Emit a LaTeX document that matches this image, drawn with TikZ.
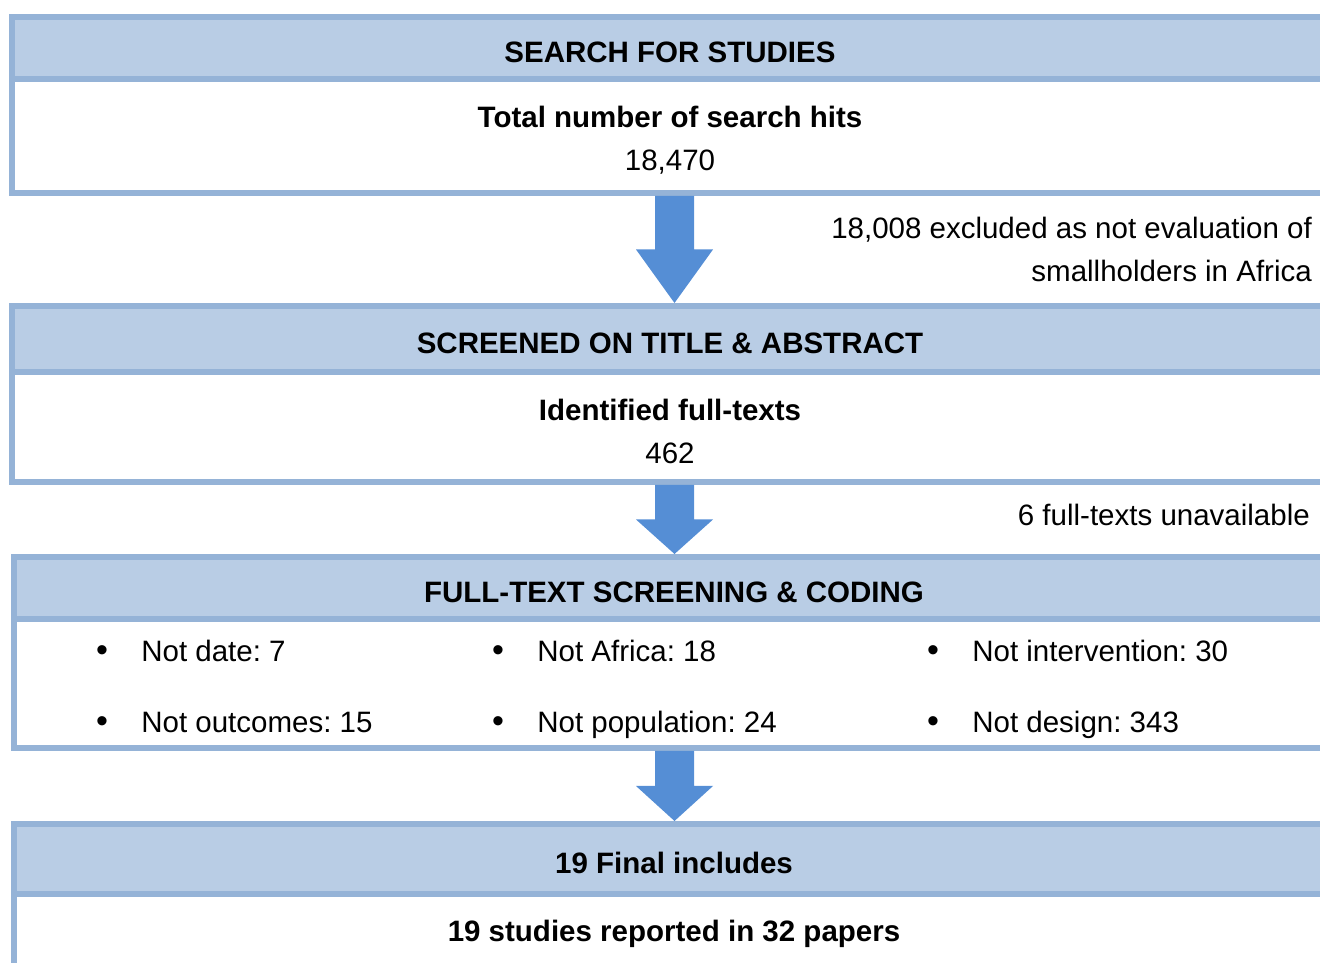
\documentclass[tikz,border=0pt]{standalone}
\usepackage{fontspec}
\setmainfont{Liberation Sans}
\usetikzlibrary{positioning,calc}
\frenchspacing

\definecolor{boxline}{HTML}{95B3D7}
\definecolor{headfill}{HTML}{B9CDE5}
\definecolor{arrowfill}{HTML}{558ED5}

\tikzset{
  flowtext/.style={font=\fontsize{29.5}{43}\selectfont, inner sep=0pt},
  headbox/.style={rectangle, draw=boxline, fill=headfill, line width=6pt, inner sep=0pt,
    minimum width=1316pt, text height=29pt, text depth=0pt,
    font=\fontsize{29.5}{43}\selectfont\bfseries},
  bodybox/.style={rectangle, draw=boxline, fill=white, line width=6pt, inner sep=0pt,
    minimum width=1316pt},
  dotmark/.style={font=\fontsize{34}{43}\selectfont, inner sep=0pt, anchor=base},
}

\begin{document}
\begin{tikzpicture}[x=1pt, y=1pt]
	\useasboundingbox (0,0) rectangle (1320,963);
	\coordinate (axis) at (674.5,0);

	% search
	\node[headbox, minimum height=62pt, anchor=north west] (head1) at (9,949) {SEARCH FOR STUDIES};
	\node[bodybox, minimum height=114pt, below=-6pt of head1] (body1) {};
	\node[flowtext, align=center] (hits) at ([yshift=-4pt]body1.center) {\textbf{Total number of search hits}\\18,470};

	% title and abstract
	\node[headbox, minimum height=66pt, below=107pt of body1] (head2) {SCREENED ON TITLE \& ABSTRACT};
	\node[bodybox, minimum height=110pt, below=-6pt of head2] (body2) {};
	\node[flowtext, align=center] (fulltexts) at ([yshift=-4pt]body2.center) {\textbf{Identified full-texts}\\462};

	% full texts
	\node[headbox, minimum width=1320pt, minimum height=62pt, below=69pt of body2, xshift=4pt] (head3) {FULL-TEXT SCREENING \& CODING};
	\node[bodybox, minimum width=1320pt, minimum height=129pt, below=-6pt of head3] (body3) {};
	\foreach \x/\y/\t [count=\i] in {102/662/{Not date: 7}, 498/662/{Not Africa: 18}, 933/662/{Not intervention: 30},
		102/732.5/{Not outcomes: 15}, 498/732.5/{Not population: 24}, 933/732.5/{Not design: 343}}
	{
		\node[dotmark] (dot\i) at (\x,963-\y) {\textbullet};
		\node[flowtext, base right=33pt of dot\i] (item\i) {\t};
	}

	% included
	\node[headbox, minimum width=1320pt, minimum height=70pt, below=70pt of body3] (head4) {19 Final includes};
	\node[bodybox, minimum width=1320pt, minimum height=110pt, below=-6pt of head4] (body4) {};
	\node[flowtext, anchor=base] (studies) at ([yshift=-51pt]body4.north) {\textbf{19 studies reported in 32 papers}};

	% exclusions
	\node[flowtext, align=right, anchor=north east] (excl1) at (1312,746) {18,008 excluded as not evaluation of\\smallholders in Africa};
	\node[flowtext, anchor=base east] (excl2) at (1310,437) {6 full-texts unavailable};

	% block arrows
	\foreach \a/\b in {body1/head2, body2/head3, body3/head4}
		\fill[arrowfill] let \p1=(\a.south), \p2=(\b.north), \p3=(axis) in
			({\x3-19.5pt},\y1) -- ({\x3+19.5pt},\y1) -- ({\x3+19.5pt},{(\y1+\y2)/2})
			-- ({\x3+38.5pt},{(\y1+\y2)/2}) -- (\x3,\y2) -- ({\x3-38.5pt},{(\y1+\y2)/2})
			-- ({\x3-19.5pt},{(\y1+\y2)/2}) -- cycle;
\end{tikzpicture}
\end{document}
